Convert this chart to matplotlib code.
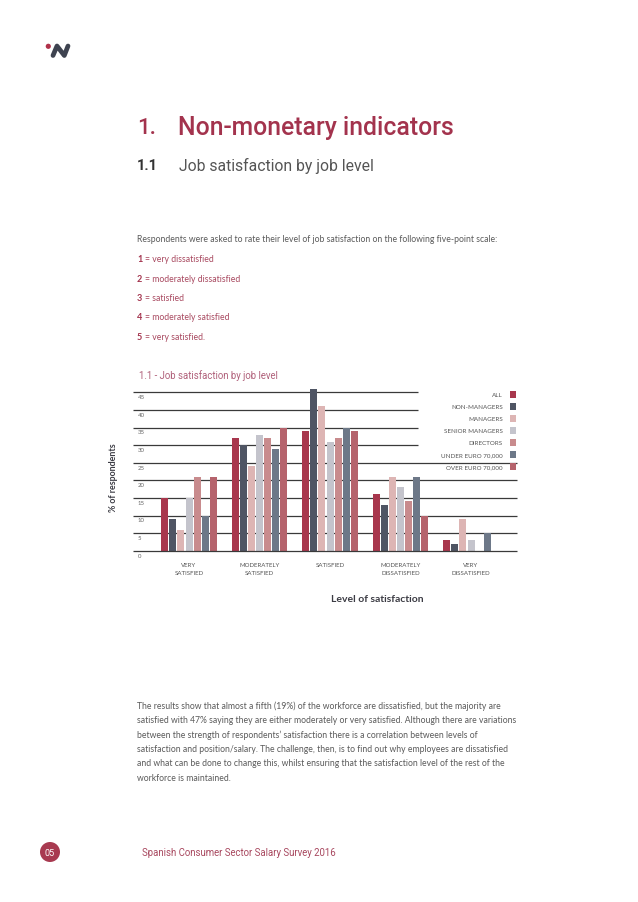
import matplotlib
matplotlib.use("Agg")
import matplotlib.pyplot as plt
from matplotlib.patches import Ellipse, Rectangle
from matplotlib.lines import Line2D
import numpy as np

# ---------------- data ----------------
categories = ["VERY\nSATISFIED", "MODERATELY\nSATISFIED", "SATISFIED",
              "MODERATELY\nDISSATISFIED", "VERY\nDISSATISFIED"]
series_names = ["ALL", "NON-MANAGERS", "MANAGERS", "SENIOR MANAGERS",
                "DIRECTORS", "UNDER EURO 70,000", "OVER EURO 70,000"]
all_vals = [15, 32, 34, 16, 3]
non_managers = [9, 30, 46, 13, 2]
managers = [6, 24, 41, 21, 9]
senior_managers = [15, 33, 31, 18, 3]
directors = [21, 32, 32, 14, 0]
under_70k = [10, 29, 35, 21, 5]
over_70k = [21, 35, 34, 10, 0]
series_values = [all_vals, non_managers, managers, senior_managers,
                 directors, under_70k, over_70k]
y_ticks = [0, 5, 10, 15, 20, 25, 30, 35, 40, 45]

colors = ["#a8374d", "#4f5564", "#ddb5b4", "#c4c4cc", "#c88b8d", "#6d7888", "#b5636c"]

W, H = 638, 903
fig = plt.figure(figsize=(W / 100, H / 100), dpi=100)
fig.patch.set_facecolor("white")
renderer = fig.canvas.get_renderer()

CRIMSON = "#a3334d"
MAUVE = "#a8485f"
GRAY = "#5a5a5a"


def fx(x):
    return x / W


def fy(y):
    return 1 - y / H


def ftext(x, y, s, width=None, size=6, **kw):
    kw.setdefault("va", "center")
    t = fig.text(fx(x), fy(y), s, fontsize=size, **kw)
    if width is not None:
        bb = t.get_window_extent(renderer)
        t.set_fontsize(size * width / bb.width)
    return t


def twidth(t):
    return t.get_window_extent(renderer).width


def circle(x, y, r, color, z=5):
    fig.patches.append(Ellipse((fx(x), fy(y)), 2 * r / W, 2 * r / H,
                               transform=fig.transFigure, color=color, zorder=z, lw=0))


# ---------------- logo ----------------
circle(48.3, 47.3, 2.6, "#b0324a")
lx = [53.0, 57.0, 64.3, 68.0]
ly = [56.5, 47.0, 56.5, 47.0]
fig.lines.append(Line2D([fx(v) for v in lx], [fy(v) for v in ly], transform=fig.transFigure,
                        color="#3e4350", lw=3.4, solid_capstyle="round",
                        solid_joinstyle="round"))

# ---------------- header ----------------
ftext(137, 128, "1.", size=16, color=CRIMSON, family="Roboto", fontweight="medium")
ftext(178, 128, "Non-monetary indicators", width=277, size=16, color=CRIMSON,
      family="Roboto", fontweight="medium")
ftext(137, 166, "1.1", size=10.5, color="#333333", family="Roboto", fontweight="bold")
ftext(179, 166, "Job satisfaction by job level", width=195, size=10.5, color="#555555",
      family="Roboto")

ref = ftext(137, 240, "Respondents were asked to rate their level of job satisfaction on the "
            "following five-point scale:", width=360, size=6, color=GRAY, family="Lato")
body_size = ref.get_fontsize()

scale_items = [("1", "very dissatisfied"), ("2", "moderately dissatisfied"),
               ("3", "satisfied"), ("4", "moderately satisfied"), ("5", "very satisfied.")]
for i, (num, lab) in enumerate(scale_items):
    yy = 259.5 + i * 19.5
    tn = ftext(137, yy, num, size=body_size * 1.05, color=CRIMSON, family="Lato",
               fontweight="bold")
    ftext(137 + twidth(tn) + 3.0, yy, "= " + lab, size=body_size, color=MAUVE, family="Lato")

# ---------------- chart ----------------
ftext(139, 376, "1.1 - Job satisfaction by job level", width=138, size=6.5,
      color="#b0607a", family="Roboto")

px_unit = (551.7 - 393.3) / 45.0
y_top = 46.5
ax_left, ax_right = 133, 517
ax_bottom = 551.7
ax_topp = ax_bottom - y_top * px_unit
ax = fig.add_axes([fx(ax_left), fy(ax_bottom), (ax_right - ax_left) / W,
                   (ax_bottom - ax_topp) / H])
grp_px = 70.5
x0 = -(189 - ax_left) / grp_px
x1 = (ax_right - 189) / grp_px
ax.set_xlim(x0, x1)
ax.set_ylim(0, y_top)
ax.axis("off")

x = np.arange(len(categories))
step = 8.1 / grp_px
bw = 7.0 / grp_px
for i, (vals, col) in enumerate(zip(series_values, colors)):
    ax.bar(x + (i - 3) * step, vals, width=bw, color=col, zorder=2, linewidth=0)

short_end = (418 - 189) / grp_px
for t in y_ticks:
    xe = short_end if t >= 30 else x1
    ax.plot([x0, xe], [t, t], color="#3a3a3a", lw=0.9, zorder=1 if t > 0 else 3,
            solid_capstyle="butt", clip_on=False)
    ax.text(x0 + 5 / grp_px, t - 1.25, str(t), fontsize=4.3, color="#666666",
            family="Lato", va="center", ha="left")

for xi, cat in zip(x, categories):
    ax.text(xi, -3.3, cat, fontsize=4.4, color="#555555", family="Lato", ha="center",
            va="top", linespacing=1.75)

ftext(331, 599, "Level of satisfaction", width=92, size=6.5, color="#3c3c44",
      family="Lato", fontweight="bold")
yl = fig.text(fx(114), fy(477.5), "% of respondents", rotation=90, fontsize=6.5,
              color="#3c3c44", family="Lato", fontweight="bold", va="center", ha="center")
bb = yl.get_window_extent(renderer)
yl.set_fontsize(6.5 * 69 / bb.height)

# legend (manual, right aligned)
for i, (name, col) in enumerate(zip(series_names, colors)):
    yy = 395.3 + i * 12.0
    ftext(503, yy, name, size=4.5, color="#555555", family="Lato", ha="right")
    fig.patches.append(Rectangle((fx(510), fy(yy + 3.2)), 6.4 / W, 6.4 / H,
                                 transform=fig.transFigure, color=col, lw=0))

# ---------------- bottom paragraph ----------------
lines = [
    "The results show that almost a fifth (19%) of the workforce are dissatisfied, but the majority are",
    "satisfied with 47% saying they are either moderately or very satisfied. Although there are variations",
    "between the strength of respondents\u2019 satisfaction there is a correlation between levels of",
    "satisfaction and position/salary. The challenge, then, is to find out why employees are dissatisfied",
    "and what can be done to change this, whilst ensuring that the satisfaction level of the rest of the",
    "workforce is maintained.",
]
for i, ln in enumerate(lines):
    ftext(137, 706 + i * 14.5, ln, size=body_size, color=GRAY, family="Lato")

# ---------------- footer ----------------
circle(50, 853, 10.0, "#a83a50")
fig.text(fx(50), fy(853.5), "05", fontsize=6.5, color="white", family="Roboto",
         ha="center", va="center", zorder=6)
ftext(142, 853, "Spanish Consumer Sector Salary Survey 2016", width=195, size=7,
      color=MAUVE, family="Roboto")

fig.savefig("out.png", dpi=100, facecolor="white")
